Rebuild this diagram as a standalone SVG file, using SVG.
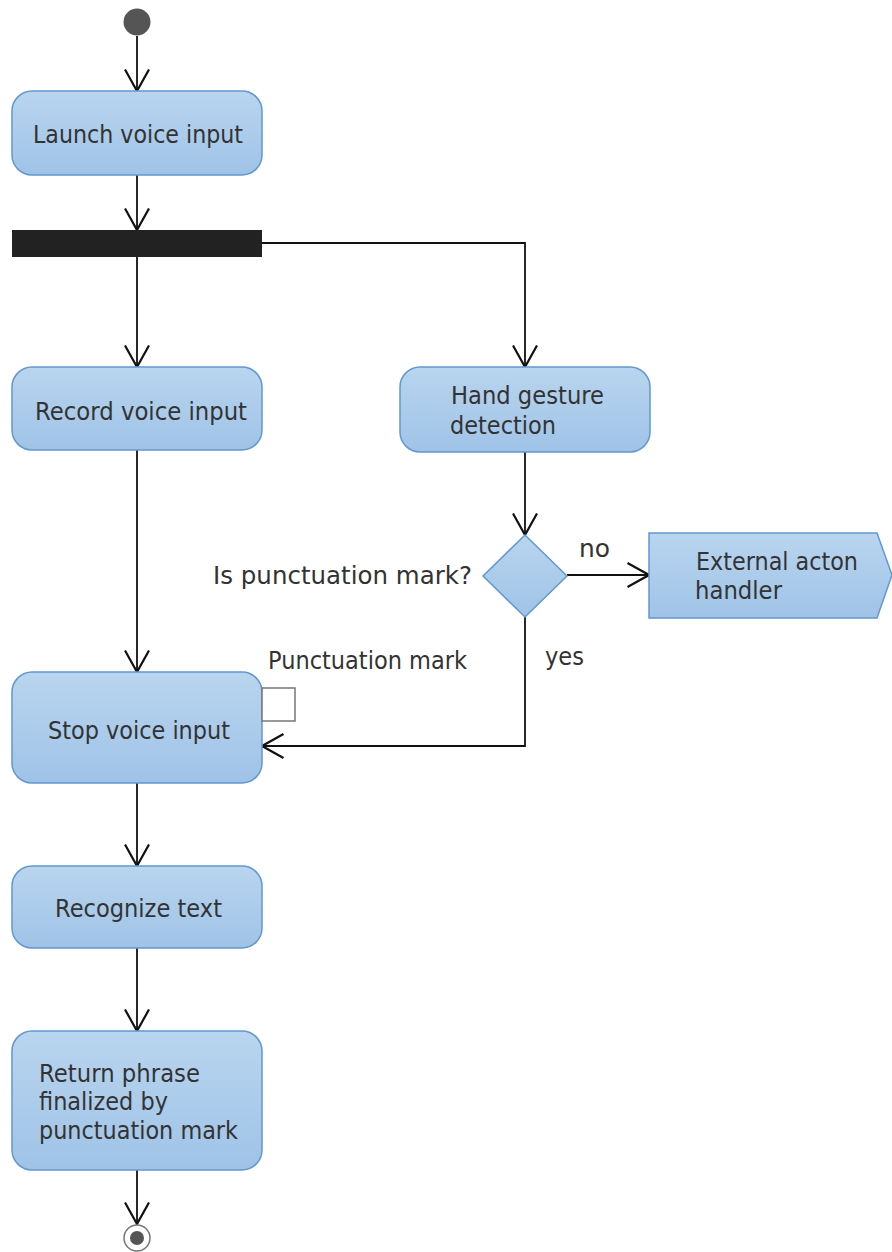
<svg xmlns="http://www.w3.org/2000/svg" width="892" height="1252" viewBox="0 0 892 1252">
  <defs>
    <linearGradient id="actFill" x1="0" y1="0" x2="0" y2="1">
      <stop offset="0" stop-color="#b9d5ef"/>
      <stop offset="1" stop-color="#9fc3e7"/>
    </linearGradient>
    <!-- open "V" arrowhead, tip at the end of the path -->
    <marker id="open" viewBox="0 0 24 26" refX="22.5" refY="13" markerWidth="24" markerHeight="26" markerUnits="userSpaceOnUse" orient="auto">
      <path d="M1,1 L22.5,13 L1,25" fill="none" stroke="#111" stroke-width="2.2"/>
    </marker>
    <style>
      .act { fill: url(#actFill); stroke: #6397cf; stroke-width: 1.5; }
      .lbl { font-family: "DejaVu Sans", Verdana, sans-serif; font-size: 24.5px; fill: #333; }
      .edge { fill: none; stroke: #111; stroke-width: 1.8; }
      .arr { marker-end: url(#open); }
    </style>
  </defs>

  <g id="connectors">
    <path class="edge arr" d="M137,36 V91"/>
    <path class="edge arr" d="M137,175 V230"/>
    <path class="edge arr" d="M137,257 V367"/>
    <path class="edge arr" d="M262,243 H525 V367"/>
    <path class="edge arr" d="M137,450 V672"/>
    <path class="edge arr" d="M525,452 V535"/>
    <path class="edge arr" d="M567,575 H649"/>
    <path class="edge arr" d="M525,617 V746 H262"/>
    <path class="edge arr" d="M137,783 V866"/>
    <path class="edge arr" d="M137,948 V1031"/>
    <path class="edge arr" d="M137,1170 V1224"/>
  </g>

  <g id="start">
    <circle cx="137" cy="22" r="13.5" fill="#555"/>
  </g>

  <g id="launch">
    <rect class="act" x="12" y="91" width="250" height="84" rx="20"/>
    <text class="lbl" x="33" y="143" textLength="210" lengthAdjust="spacingAndGlyphs">Launch voice input</text>
  </g>

  <g id="fork">
    <rect x="12" y="230" width="250" height="27" fill="#222"/>
  </g>

  <g id="record">
    <rect class="act" x="12" y="367" width="250" height="83" rx="20"/>
    <text class="lbl" x="35" y="420" textLength="212" lengthAdjust="spacingAndGlyphs">Record voice input</text>
  </g>

  <g id="gesture">
    <rect class="act" x="400" y="367" width="250" height="85" rx="20"/>
    <text class="lbl" x="451" y="404" textLength="153" lengthAdjust="spacingAndGlyphs">Hand gesture</text>
    <text class="lbl" x="450" y="434" textLength="106" lengthAdjust="spacingAndGlyphs">detection</text>
  </g>

  <g id="decision">
    <polygon class="act" points="525,535 567,576 525,617 483,576"/>
    <text class="lbl" x="213" y="584" textLength="259" lengthAdjust="spacingAndGlyphs">Is punctuation mark?</text>
    <text class="lbl" x="579" y="557" textLength="31" lengthAdjust="spacingAndGlyphs">no</text>
    <text class="lbl" x="545" y="665" textLength="39" lengthAdjust="spacingAndGlyphs">yes</text>
  </g>

  <g id="external">
    <polygon class="act" points="649,533 877,533 892,575 877,618 649,618"/>
    <text class="lbl" x="696" y="570" textLength="162" lengthAdjust="spacingAndGlyphs">External acton</text>
    <text class="lbl" x="695" y="599" textLength="87" lengthAdjust="spacingAndGlyphs">handler</text>
  </g>

  <g id="stop">
    <rect class="act" x="12" y="672" width="250" height="111" rx="20"/>
    <text class="lbl" x="48" y="739" textLength="182" lengthAdjust="spacingAndGlyphs">Stop voice input</text>
  </g>

  <g id="pin">
    <rect x="262" y="688" width="33" height="33" fill="#fff" stroke="#777" stroke-width="1.5"/>
    <text class="lbl" x="268" y="669" textLength="199" lengthAdjust="spacingAndGlyphs">Punctuation mark</text>
  </g>

  <g id="recognize">
    <rect class="act" x="12" y="866" width="250" height="82" rx="20"/>
    <text class="lbl" x="55" y="917" textLength="167" lengthAdjust="spacingAndGlyphs">Recognize text</text>
  </g>

  <g id="return">
    <rect class="act" x="12" y="1031" width="250" height="139" rx="20"/>
    <text class="lbl" x="39" y="1082" textLength="161" lengthAdjust="spacingAndGlyphs">Return phrase</text>
    <text class="lbl" x="39" y="1110" textLength="129" lengthAdjust="spacingAndGlyphs">finalized by</text>
    <text class="lbl" x="39" y="1139" textLength="199" lengthAdjust="spacingAndGlyphs">punctuation mark</text>
  </g>

  <g id="end">
    <circle cx="137" cy="1238" r="13" fill="#fff" stroke="#777" stroke-width="1.5"/>
    <circle cx="137" cy="1238" r="7" fill="#555"/>
  </g>
</svg>
